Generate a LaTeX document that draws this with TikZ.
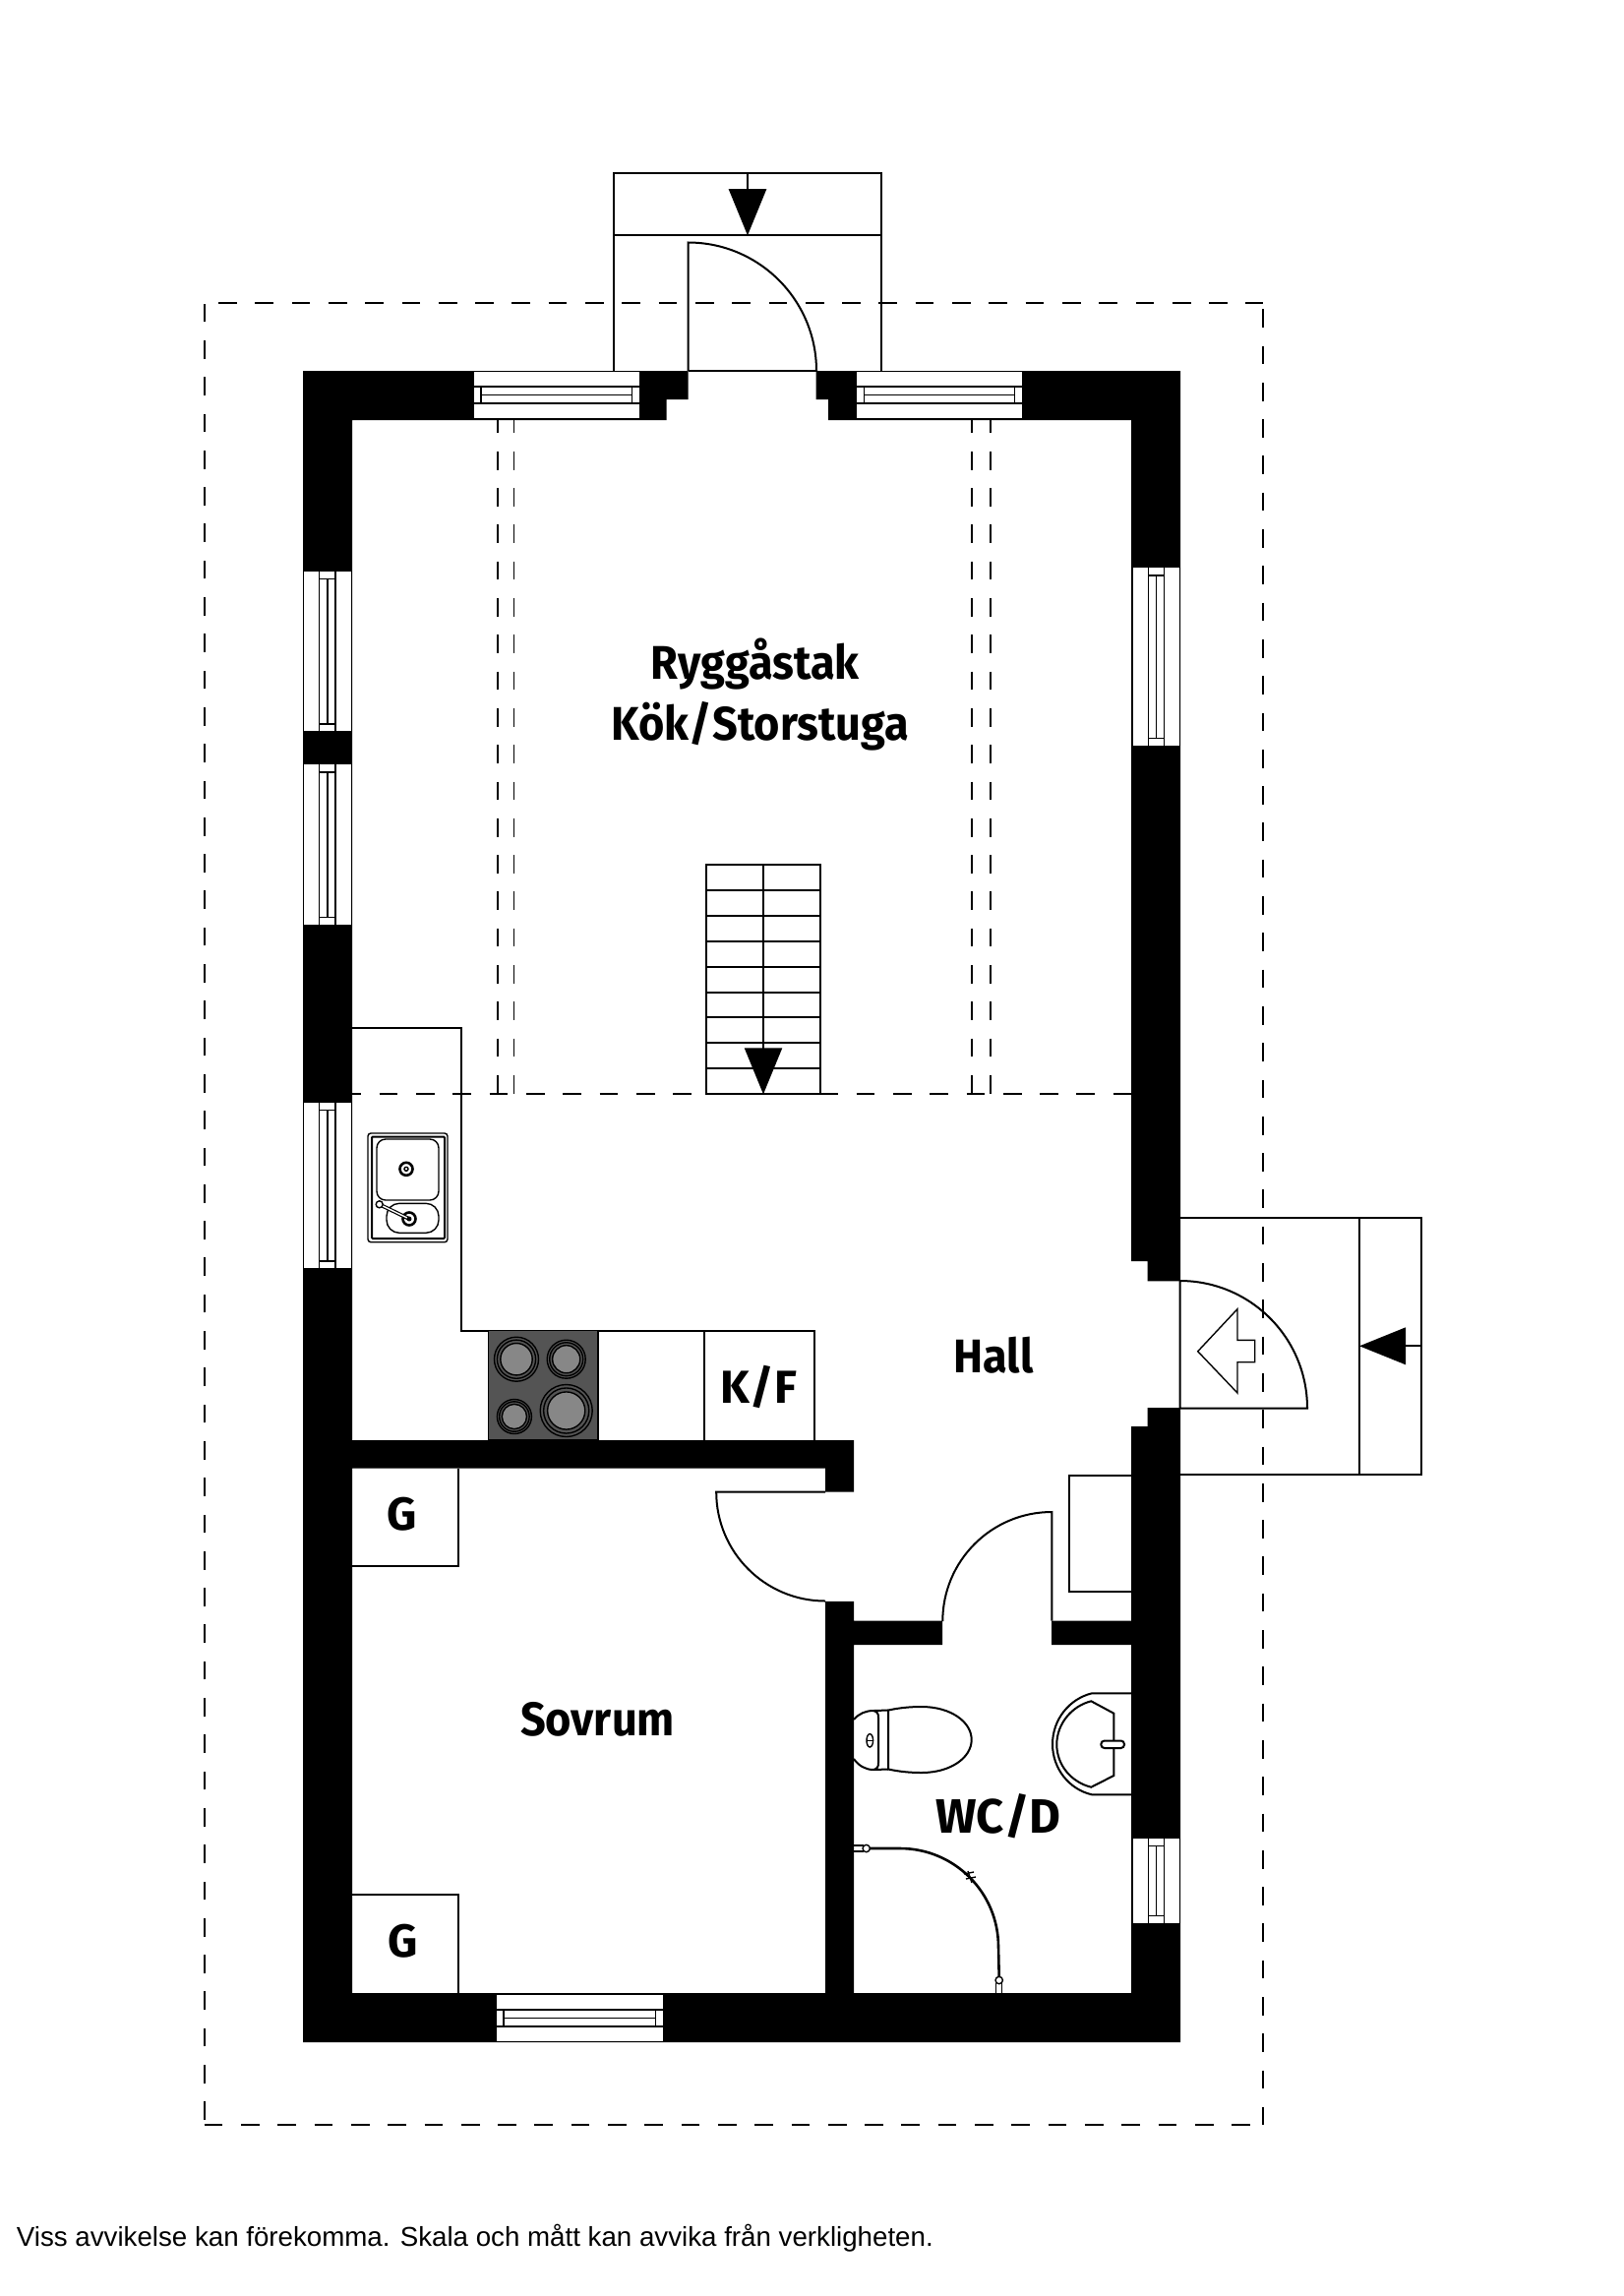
\documentclass[tikz,border=0pt]{standalone}
\usepackage{fontspec}
\setmainfont{Liberation Sans}
\newfontfamily\roomfont{Fira Sans}
\newfontfamily\roomfontnarrow[FakeStretch=0.94]{Fira Sans}
\tikzset{
  thin line/.style={line width=1.4pt},
  plan line/.style={line width=2pt},
  ridge line/.style={line width=1.8pt,dash pattern=on 18.7pt off 18.6pt},
  room label/.style={anchor=base,inner sep=0pt,font=\roomfontnarrow\bfseries\fontsize{48}{48}\selectfont},
  small label/.style={anchor=base,inner sep=0pt,font=\roomfont\bfseries\fontsize{47}{47}\selectfont},
  note label/.style={anchor=base west,inner sep=0pt,font=\fontsize{27.7}{27.7}\selectfont},
  hob/.style={fill=black!67},
}
\begin{document}
\begin{tikzpicture}[x=1pt,y=-1pt]
\useasboundingbox (0,0) rectangle (1650,2334);

% walls
\fill (308,377) -- (699.5,377) -- (699.5,406) -- (677.5,406) -- (677.5,427) -- (358,427)
  -- (358,1464) -- (868,1464) -- (868,1516.7) -- (839,1516.7) -- (839,1492.7) -- (358,1492.7)
  -- (358,2026) -- (839,2026) -- (839,1627.8) -- (868,1627.8) -- (868,1647.5) -- (958,1647.5)
  -- (958,1672) -- (868,1672) -- (868,2026) -- (1150,2026) -- (1150,1672) -- (1069,1672)
  -- (1069,1647.5) -- (1150,1647.5) -- (1150,1450) -- (1166.7,1450) -- (1166.7,1431)
  -- (1200,1431) -- (1200,2076) -- (308,2076) -- cycle;
\fill (829.6,377) -- (1200,377) -- (1200,1302.3) -- (1166.7,1302.3) -- (1166.7,1282)
  -- (1150,1282) -- (1150,427) -- (842,427) -- (842,406) -- (829.6,406) -- cycle;

% windows, side walls
\foreach \xa/\ya/\yb in {309/580.7/743.3, 309/777.3/940, 309/1120.7/1289.3, 1151.5/577.3/757.7, 1151.5/1868.7/1954.7} {
  \fill[white] (\xa,\ya) rectangle ++(47.5,\yb-\ya);
  \draw[thin line] (\xa+15.7,\ya) -- (\xa+15.7,\yb);
  \draw[thin line] (\xa+32,\ya) -- (\xa+32,\yb);
  \draw[thin line] (\xa+15.7,\ya+7.5) -- (\xa+32,\ya+7.5);
  \draw[thin line] (\xa+15.7,\yb-7.5) -- (\xa+32,\yb-7.5);
  \draw[thin line] (\xa+24,\ya+7.5) -- (\xa+24,\yb-7.5);
}
% windows, top and bottom walls
\foreach \xa/\xb/\ya in {481.6/649.5/378, 871.4/1039/378, 504.7/673.5/2028} {
  \fill[white] (\xa,\ya) rectangle (\xb,\ya+47);
  \draw[thin line] (\xa,\ya+15) -- (\xb,\ya+15);
  \draw[thin line] (\xa,\ya+32) -- (\xb,\ya+32);
  \draw[thin line] (\xa+7.3,\ya+15) -- (\xa+7.3,\ya+32);
  \draw[thin line] (\xb-7.3,\ya+15) -- (\xb-7.3,\ya+32);
  \draw[thin line] (\xa+7.3,\ya+23.5) -- (\xb-7.3,\ya+23.5);
}

% front porch
\draw[plan line] (623.5,377) -- (623.5,175.7) -- (896,175.7) -- (896,377);
\draw[plan line] (623.5,239.3) -- (896,239.3);
\draw[plan line] (760,175.7) -- (760,192);
\fill (740.6,192) -- (779.4,192) -- (760,239.3) -- cycle;
\draw[plan line] (699.5,377) -- (699.5,246.5) arc[start angle=270,end angle=360,radius=130.5];
\draw[thin line] (699.5,377) -- (830,377);

% side porch
\draw[plan line] (1200,1237.7) -- (1445,1237.7) -- (1445,1498.7) -- (1200,1498.7);
\draw[plan line] (1382,1237.7) -- (1382,1498.7);
\draw[plan line] (1429,1368.3) -- (1445,1368.3);
\fill (1382,1368.3) -- (1429,1349.3) -- (1429,1387.3) -- cycle;
\draw[plan line] (1199.5,1302) arc[start angle=270,end angle=360,radius=129.5] -- (1199.5,1431.5) -- cycle;
\draw[thin line] (1217.7,1373.7) -- (1258,1330.7) -- (1258,1362.3) -- (1275.7,1362.3)
  -- (1275.7,1384.7) -- (1258,1384.7) -- (1258,1416) -- cycle;

% roof outline and ridge
\draw[ridge line,dash phase=23pt] (207.7,308.3) -- (1284,308.3);
\draw[ridge line,dash phase=31.4pt] (1284,308.3) -- (1284,2160);
\draw[ridge line] (207.7,2160) -- (1284,2160);
\draw[ridge line,dash phase=32.3pt] (207.7,2160) -- (207.7,308.3);
\draw[ridge line,dash phase=9.6pt] (358,1112.3) -- (1150,1112.3);
\foreach \xr in {505.6,522.4,988.3,1007} {
  \draw[ridge line,dash phase=5.5pt] (\xr,427) -- (\xr,1112.3);
}

% stairs
\draw[plan line] (717.7,879) rectangle (834,1112.3);
\foreach \ys in {1,...,8} {
  \draw[plan line] (717.7,879+25.9*\ys) -- (834,879+25.9*\ys);
}
\draw[plan line] (776,879) -- (776,1066);
\fill (756.7,1065.3) -- (795.3,1065.3) -- (776,1112.3) -- cycle;

% kitchen
\draw[plan line] (358,1045) -- (468.6,1045) -- (468.6,1352.7) -- (828,1352.7) -- (828,1464);
\draw[plan line] (716,1352.7) -- (716,1464);
\draw[thin line,hob] (496.4,1352.7) rectangle (607.9,1464);
\foreach \cx/\cy/\rb in {525/1381.7/22.5, 575.7/1381.7/19.5, 522.9/1440/17.5, 575.7/1434/26.5} {
  \draw[thin line] (\cx,\cy) circle[radius=\rb];
  \draw[thin line] (\cx,\cy) circle[radius=\rb*0.87];
  \draw[thin line,fill=black!47] (\cx,\cy) circle[radius=\rb*0.72];
}
\draw[thin line,rounded corners=3pt] (374,1152) rectangle (455,1262.7);
\draw[plan line,rounded corners=1pt] (378,1155.5) rectangle (452,1259);
\draw[thin line,rounded corners=9pt] (383,1158) rectangle (446,1220);
\draw[thin line,rounded corners=13pt] (393,1223.3) rectangle (446,1253.3);
\draw[line width=2.6pt] (413,1188.3) circle[radius=6.5];
\draw[thin line] (413,1188.3) circle[radius=2];
\draw[line width=2.6pt] (416,1239) circle[radius=6.5];
\draw[line width=3.8pt] (416,1239) -- (385.7,1224.3);
\draw[line width=1.4pt,white] (414,1238) -- (388,1225.4);
\draw[thin line,fill=white] (385.7,1224.3) circle[radius=3.5];
\fill (416,1239) circle[radius=2.5];

% bedroom
\draw[plan line] (358,1592) -- (465.7,1592) -- (465.7,1492.7);
\draw[plan line] (358,1926) -- (465.7,1926) -- (465.7,2026);
\draw[plan line] (839,1516.7) -- (728.2,1516.7) arc[start angle=180,end angle=90,radius=110.8];

% hall closet and bathroom door
\draw[plan line] (1150,1500.3) -- (1087.3,1500.3) -- (1087.3,1617.7) -- (1150,1617.7);
\draw[plan line] (1069.3,1647.7) -- (1069.3,1537) arc[start angle=270,end angle=180,radius=111];

% bathroom
\draw[plan line] (903,1738.5) .. controls (915,1736) and (925,1735) .. (937,1735)
  .. controls (966,1735) and (987.7,1750) .. (987.7,1768.5)
  .. controls (987.7,1787) and (966,1802) .. (937,1802)
  .. controls (925,1802) and (915,1801) .. (903,1798.5) -- cycle;
\draw[plan line] (868,1748) .. controls (873,1742) and (880,1739) .. (888,1739) -- (903,1738.5);
\draw[plan line] (868,1788) .. controls (873,1795) and (880,1799) .. (888,1799) -- (903,1798.5);
\draw[plan line] (888,1739) .. controls (892,1740) and (893,1742) .. (893,1746) -- (893,1792)
  .. controls (893,1796) and (892,1798) .. (888,1799);
\draw[thin line] (884.3,1769.3) ellipse[x radius=3.3,y radius=6.7];
\draw[thin line] (881,1769.3) -- (887.6,1769.3);
\draw[plan line] (1150,1721.3) -- (1110,1721.3) .. controls (1087,1727) and (1070,1748) .. (1070,1773)
  .. controls (1070,1798) and (1087,1819) .. (1110,1824.3) -- (1150,1824.3);
\draw[plan line] (1109.3,1729.3) -- (1132.3,1741.7) -- (1132.3,1805) -- (1109.3,1816.7)
  .. controls (1090,1812) and (1074.3,1795) .. (1074.3,1773.3)
  .. controls (1074.3,1752) and (1090,1734) .. (1109.3,1729.3) -- cycle;
\draw[plan line,fill=white,rounded corners=3.5pt] (1119.3,1769.5) rectangle (1143,1777);
\draw[line width=2.6pt] (884,1879) -- (915,1879) arc[start angle=270,end angle=360,radius=100] -- (1015.7,2009);
\draw[thin line] (868,1876) -- (878,1876);
\draw[thin line] (868,1882) -- (878,1882);
\draw[thin line,fill=white] (880.7,1879) circle[radius=3.7];
\draw[thin line,fill=white] (1015.7,2013) circle[radius=3.7];
\draw[thin line] (1012.7,2016) -- (1012.7,2026);
\draw[thin line] (1018.7,2016) -- (1018.7,2026);
\draw[thin line] (980,1905) -- (990,1903);
\draw[thin line] (982,1910) -- (992,1908);
\draw[thin line] (984,1902) -- (988,1914);

% room names
\node[room label] (ridgename) at (767.5,690) {Ryggåstak};
\node[room label] (kitchenname) at (773,752.7) {Kök/Storstuga};
\node[room label] (hallname) at (1010,1395) {Hall};
\node[small label] (fridgename) at (771.5,1426) {K/F};
\node[small label] (wardrobeone) at (409,1555) {G};
\node[small label] (wardrobetwo) at (409.8,1989) {G};
\node[room label] (bedroomname) at (607.5,1764.5) {Sovrum};
\node[small label,font=\roomfont\bfseries\fontsize{49}{49}\selectfont] (bathname) at (1015,1863.3) {WC/D};
\node[note label] (note) at (16.7,2283.3) {Viss avvikelse kan förekomma. Skala och mått kan avvika från verkligheten.};
\end{tikzpicture}
\end{document}
